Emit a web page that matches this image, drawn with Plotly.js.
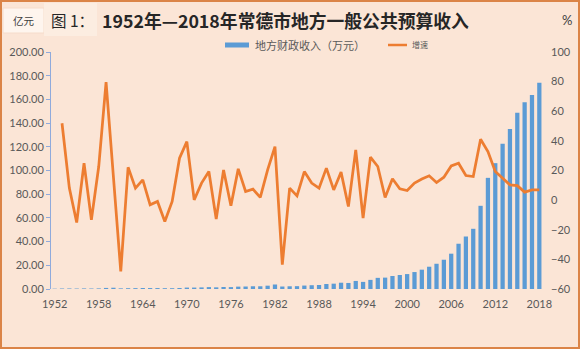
<!DOCTYPE html>
<html>
<head>
<meta charset="utf-8">
<script src="https://cdn.plot.ly/plotly-3.0.1.min.js"></script>
<style>
html,body{margin:0;padding:0;background:#FBE5D6;}
#chart{width:580px;height:349px;}
</style>
</head>
<body>
<div id="chart"></div>
<script>
// ---- data ----
const years = [1952,1953,1954,1955,1956,1957,1958,1959,1960,1961,1962,1963,1964,1965,1966,1967,1968,1969,1970,1971,1972,1973,1974,1975,1976,1977,1978,1979,1980,1981,1982,1983,1984,1985,1986,1987,1988,1989,1990,1991,1992,1993,1994,1995,1996,1997,1998,1999,2000,2001,2002,2003,2004,2005,2006,2007,2008,2009,2010,2011,2012,2013,2014,2015,2016,2017,2018];
const revenue = [0.27,0.41,0.44,0.38,0.47,0.41,0.50,0.90,1.06,0.55,0.67,0.73,0.83,0.80,0.79,0.68,0.67,0.86,1.20,1.20,1.35,1.60,1.40,1.70,1.60,2.00,2.10,2.30,2.30,2.80,3.80,2.10,2.30,2.40,2.90,3.20,3.40,4.20,4.50,5.30,5.10,6.80,6.00,7.70,9.40,9.60,11.00,11.80,12.60,14.30,16.30,18.80,21.30,24.70,29.80,38.20,44.30,50.80,70.20,93.80,106.20,122.50,135.10,148.80,157.60,163.80,174.10];
const growth = [null,51.9,8.1,-15.1,24.9,-13.3,22.7,79.6,18,-48.1,22.2,8.1,13.7,-3.2,-0.9,-14.4,-0.9,28.3,39.5,0.2,11.5,19.3,-12.8,20.4,-3.8,21.1,5.8,7.4,1.8,20.4,36.1,-43.6,8.1,2.9,19.3,11.5,8.1,21.6,6.9,18.9,-4.3,33.9,-12.1,29.0,22.7,1.8,14.4,7.6,6.5,11.5,14.2,16.4,11.9,15.5,23.1,24.9,16.6,15.9,41.1,32.8,19.3,14.8,10.3,9.8,5.4,6.9,6.9];
const seriesNames = ["地方财政收入（万元）","增速"];
const titleText = "1952年—2018年常德市地方一般公共预算收入";
const figLabel = "图 1：";
const leftUnit = "亿元";
const rightUnit = "%";

// ---- geometry helpers (pixel -> paper) ----
const W = 580, H = 349, ML = 51, MR = 37, MT = 52, MB = 60;
const PW = W - ML - MR, PH = H - MT - MB;
const px = x => (x - ML) / PW;
const py = y => (H - MB - y) / PH;

const FONT = "Lato, 'Noto Sans CJK SC', sans-serif";
const CJK = "'Noto Sans CJK SC', Lato, sans-serif";

const traces = [
  {type:'bar', x: years, y: revenue, name: seriesNames[0], marker:{color:'#5B9BD5'}, yaxis:'y', showlegend:false},
  {type:'scatter', mode:'lines', x: years, y: growth, name: seriesNames[1], line:{color:'#ED7D31', width:2.75}, yaxis:'y2', showlegend:false, connectgaps:false}
];

const layout = {
  width: W, height: H,
  margin: {l: ML, r: MR, t: MT, b: MB, pad: 0},
  paper_bgcolor: '#FBE5D6',
  plot_bgcolor: '#FBE5D6',
  bargap: 0.42,
  showlegend: false,
  font: {family: FONT, size: 11, color: '#595959'},
  xaxis: {
    range: [1951.5, 2018.5], tickmode: 'linear', tick0: 1952, dtick: 6,
    showgrid: false, zeroline: false, showline: false, ticks: '', ticklabelstandoff: 7,
    tickfont: {family: FONT, size: 11, color: '#595959'}, fixedrange: true
  },
  yaxis: {
    range: [0, 200], dtick: 20, tickformat: '.2f', showgrid: false, zeroline: false,
    showline: true, linecolor: '#8FAADC', linewidth: 1, ticks: 'outside', ticklen: 4,
    tickcolor: '#8FAADC', tickfont: {family: FONT, size: 11, color: '#595959'}
  },
  yaxis2: {
    range: [-60, 100], dtick: 20, overlaying: 'y', side: 'right', showgrid: false,
    zeroline: false, showline: false, ticks: '', ticklabelstandoff: 7,
    tickfont: {family: FONT, size: 11, color: '#595959'}
  },
  shapes: [
    // outer border
    {type:'rect', xref:'paper', yref:'paper', x0:px(1), x1:px(579), y0:py(348), y1:py(1), line:{color:'#DB8447', width:2}, fillcolor:'rgba(0,0,0,0)', layer:'above'},
    // unit box
    {type:'rect', xref:'paper', yref:'paper', x0:px(3), x1:px(44), y0:py(33), y1:py(8), line:{color:'#F6DCCB', width:1}, fillcolor:'#FEF5EE', layer:'below'},
    // figure label box
    {type:'rect', xref:'paper', yref:'paper', x0:px(44), x1:px(97), y0:py(36), y1:py(3), line:{width:0}, fillcolor:'#FCEDE1', layer:'below'},
    // legend symbols
    {type:'rect', xref:'paper', yref:'paper', x0:px(225), x1:px(249), y0:py(47.5), y1:py(42.5), line:{width:0}, fillcolor:'#5B9BD5'},
    {type:'line', xref:'paper', yref:'paper', x0:px(388), x1:px(407), y0:py(45), y1:py(45), line:{color:'#ED7D31', width:2.5}}
  ],
  annotations: [
    {xref:'paper', yref:'paper', x:px(23.5), y:py(20.5), xanchor:'center', yanchor:'middle', showarrow:false, text:leftUnit, font:{family:CJK, size:10.5, color:'#404040'}},
    {xref:'paper', yref:'paper', x:px(49), y:py(19.5), xanchor:'left', yanchor:'middle', showarrow:false, text:figLabel, font:{family:CJK, size:15.5, color:'#262626'}},
    {xref:'paper', yref:'paper', x:px(100), y:py(19.5), xanchor:'left', yanchor:'middle', showarrow:false, text:'<b>'+titleText+'</b>', font:{family:CJK, size:17.8, color:'#262626'}},
    {xref:'paper', yref:'paper', x:px(567), y:py(20.5), xanchor:'center', yanchor:'middle', showarrow:false, text:rightUnit, font:{family:FONT, size:13, color:'#404040'}},
    {xref:'paper', yref:'paper', x:px(253), y:py(45), xanchor:'left', yanchor:'middle', showarrow:false, text:seriesNames[0], font:{family:CJK, size:11, color:'#595959'}},
    {xref:'paper', yref:'paper', x:px(410), y:py(44.5), xanchor:'left', yanchor:'middle', showarrow:false, text:seriesNames[1], font:{family:CJK, size:8, color:'#595959'}}
  ]
};

Plotly.newPlot('chart', traces, layout, {displayModeBar:false, staticPlot:true});
</script>
</body>
</html>
